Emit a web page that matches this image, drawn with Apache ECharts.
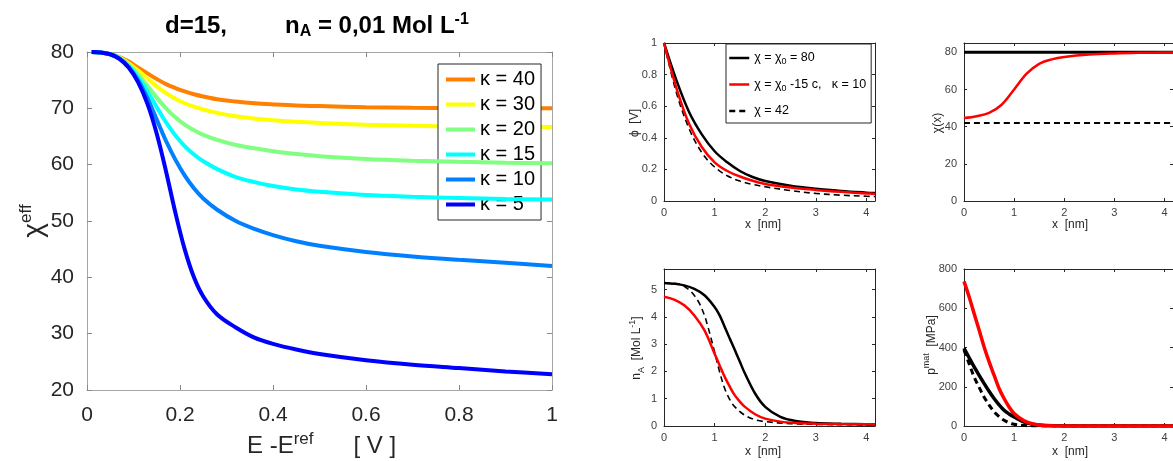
<!DOCTYPE html>
<html><head><meta charset="utf-8">
<script src="https://cdn.jsdelivr.net/npm/echarts@6/dist/echarts.min.js"></script>
<style>html,body{margin:0;padding:0;background:#fff}#c{width:1173px;height:461px}</style>
</head><body><div id="c"></div>
<script>
// ---------- Left panel: chi_eff vs E - E_ref ----------
const leftX = [0.01,0.03,0.05,0.07,0.09,0.11,0.13,0.15,0.17,0.19,0.21,0.23,0.25,0.28,0.32,0.36,0.40,0.45,0.50,0.60,0.70,0.80,0.90,1.00];
const kappa40 = [80,79.9,79.6,79.1,78.3,77.2,76.2,75.2,74.3,73.6,73.0,72.5,72.1,71.6,71.2,70.9,70.7,70.5,70.4,70.2,70.1,70.05,70.0,70.0];
const kappa30 = [80,79.9,79.6,79.0,78.0,76.7,75.3,73.9,72.7,71.7,70.9,70.3,69.8,69.2,68.6,68.2,67.9,67.6,67.4,67.1,66.9,66.8,66.75,66.7];
const kappa20 = [80,79.9,79.6,78.9,77.7,76.0,74.0,71.9,70.0,68.4,67.1,66.1,65.3,64.4,63.5,62.9,62.4,61.9,61.5,61.0,60.7,60.5,60.35,60.25];
const kappa15 = [80,79.9,79.6,78.9,77.5,75.5,73.0,70.2,67.5,65.2,63.3,61.8,60.6,59.2,57.8,56.9,56.2,55.6,55.2,54.6,54.3,54.1,53.9,53.8];
const kappa10 = [80,79.9,79.6,78.8,77.3,75.0,71.8,68.0,64.2,60.9,58.1,55.8,54.0,52.0,50.0,48.6,47.5,46.4,45.6,44.5,43.7,43.1,42.6,42.0];
const kappa5  = [80,79.9,79.6,78.8,77.2,74.6,70.8,65.5,58.8,51.5,45.0,40.0,36.6,33.4,31.1,29.3,28.2,27.2,26.4,25.3,24.5,23.9,23.3,22.8];
const kappaNames = ['κ = 40','κ = 30','κ = 20','κ = 15','κ = 10','κ = 5'];

// ---------- Panel phi(x) ----------
const phiX   = [0,0.25,0.5,0.75,1,1.25,1.5,1.75,2,2.5,3,3.5,4,4.17];
const phi80  = [1,0.76,0.56,0.42,0.315,0.245,0.19,0.152,0.127,0.097,0.078,0.064,0.053,0.05];
const phiRed = [1,0.71,0.485,0.34,0.245,0.19,0.155,0.128,0.108,0.085,0.07,0.058,0.048,0.045];
const phi42  = [1,0.68,0.455,0.305,0.215,0.16,0.126,0.105,0.09,0.066,0.048,0.037,0.03,0.028];

// ---------- Panel chi(x) ----------
const chiX   = [0,0.25,0.5,0.75,1,1.25,1.5,1.75,2,2.5,3,3.5,4,4.17];
const chiRed = [44.6,45.6,47.4,51.8,60.0,68.5,73.8,76.2,77.5,78.8,79.4,79.7,79.85,79.9];
const chiConstX = [0,4.17];
const chi80 = [80,80];
const chi42 = [42,42];

// ---------- Panel n_A(x) ----------
const naX     = [0,0.2,0.4,0.6,0.8,1.0,1.1,1.2,1.3,1.4,1.5,1.6,1.8,2.0,2.3,2.6,3.0,3.5,4.0,4.17];
const naBlack = [5.24,5.21,5.15,5.02,4.79,4.36,4.05,3.63,3.2,2.78,2.35,1.92,1.19,0.7,0.33,0.18,0.11,0.08,0.06,0.055];
const naRed   = [4.73,4.63,4.42,4.05,3.5,2.65,2.22,1.8,1.44,1.12,0.89,0.7,0.43,0.27,0.16,0.11,0.085,0.07,0.06,0.055];
const naDashX = [0,0.3,0.5,0.6,0.7,0.8,0.85,0.9,1.0,1.1,1.2,1.3,1.4,1.6,1.8,2.0,2.5,3.0,4.0,4.17];
const naDash  = [5.24,5.2,4.98,4.78,4.49,4.05,3.75,3.42,2.71,1.98,1.37,0.97,0.7,0.39,0.23,0.16,0.085,0.06,0.04,0.035];

// ---------- Panel p_mat(x) ----------
const pX     = [0,0.1,0.2,0.3,0.4,0.5,0.6,0.7,0.8,0.9,1.0,1.2,1.4,1.6,2.0,3.0,4.17];
const pRed   = [737,660,575,490,404,328,259,191,140,97,63,26,9,3,0.5,0,0];
const pBlack = [396,349,302,259,217,177,140,108,80,61,46,20,8,3,0.5,0,0];
const pDash  = [387,319,251,198,148,108,72,48,29,17,8.5,2,0.5,0.2,0,0,0];

const FONT = 'Liberation Sans, Arial, sans-serif';
const pairs = (xs, ys) => xs.map((x, i) => [x, ys[i]]);

const chart = echarts.init(document.getElementById('c'), null, {renderer: 'canvas'});

const grids = [
  {left: 87, top: 52, width: 465, height: 338},
  {left: 664, top: 43, width: 211, height: 158},
  {left: 964, top: 43, width: 211, height: 158},
  {left: 664, top: 269, width: 211, height: 157},
  {left: 964, top: 269, width: 211, height: 157}
];

const ranges = [
  {x: [0, 1, 0.2], y: [20, 80, 10]},
  {x: [0, 4.17, 1], y: [0, 1, 0.2]},
  {x: [0, 4.17, 1], y: [0, 85, 20]},
  {x: [0, 4.17, 1], y: [0, 5.75, 1]},
  {x: [0, 4.17, 1], y: [0, 800, 200]}
];

function axisStyle(i, dup, dim) {
  const big = i === 0;
  const lineColor = big ? '#a6a6a6' : '#262626';
  const r = ranges[i][dim];
  const hideMax = !big && ((dim === 'x') || (i === 2 || i === 3));
  return {
    type: 'value', gridIndex: i, min: r[0], max: r[1], interval: r[2],
    position: dim === 'x' ? (dup ? 'top' : 'bottom') : (dup ? 'right' : 'left'),
    splitLine: {show: false},
    axisLine: {show: true, onZero: false, lineStyle: {color: lineColor, width: 1}},
    axisTick: {show: true, inside: true, length: big ? 5 : 3, lineStyle: {color: big ? '#888' : '#262626'}},
    axisLabel: {
      show: !dup, showMaxLabel: !hideMax,
      fontFamily: FONT, fontSize: big ? 21 : 11,
      color: big ? '#262626' : '#404040',
      margin: big ? (dim === 'x' ? 15 : 13) : (dim === 'x' ? 6 : 7)
    }
  };
}

const xAxes = [], yAxes = [];
for (let d = 0; d < 2; d++) for (let i = 0; i < 5; i++) {
  xAxes.push(axisStyle(i, d === 1, 'x'));
  yAxes.push(axisStyle(i, d === 1, 'y'));
}

const leftColors = ['#ff8000', '#ffff00', '#80ff80', '#00ffff', '#0080ff', '#0000ff'];
const leftData = [kappa40, kappa30, kappa20, kappa15, kappa10, kappa5];
const series = [];
leftData.forEach((arr, k) => {
  series.push({
    type: 'line', name: kappaNames[k], xAxisIndex: 0, yAxisIndex: 0,
    data: pairs(leftX, arr), showSymbol: false, symbol: 'none',
    smooth: 0.35,
    lineStyle: {color: leftColors[k], width: 4}, itemStyle: {color: leftColors[k]}, z: 2 + k
  });
});

function small(name, gi, xs, ys, color, width, dashed, z) {
  series.push({
    type: 'line', name, xAxisIndex: gi, yAxisIndex: gi,
    data: pairs(xs, ys), symbol: 'none', showSymbol: false,
    smooth: 0.35,
    lineStyle: {color, width, type: dashed ? [6, 4] : 'solid'},
    itemStyle: {color}, z: z || 2
  });
}
// phi panel
small('chi42', 1, phiX, phi42, '#000', 1.6, true, 2);
small('chi80', 1, phiX, phi80, '#000', 2.5, false, 3);
small('chiRed', 1, phiX, phiRed, '#ff0000', 2.5, false, 4);
// chi panel
small('chi80', 2, chiConstX, chi80, '#000', 3, false, 3);
small('chi42', 2, chiConstX, chi42, '#000', 2, true, 2);
small('chiRed', 2, chiX, chiRed, '#ff0000', 2.5, false, 4);
// n_A panel
small('chi42', 3, naDashX, naDash, '#000', 1.6, true, 2);
small('chi80', 3, naX, naBlack, '#000', 2.5, false, 3);
small('chiRed', 3, naX, naRed, '#ff0000', 2.5, false, 4);
// p panel
small('chi42', 4, pX, pDash, '#000', 3, true, 2);
small('chi80', 4, pX, pBlack, '#000', 3.5, false, 3);
small('chiRed', 4, pX, pRed, '#ff0000', 3.5, false, 4);

const legendLabels = {
  chi80: '{t|χ = χ}{s|0}{t| = 80}',
  chiRed: '{t|χ = χ}{s|0}{t| -15 c,   κ = 10}',
  chi42: '{t|χ = 42}'
};

const option = {
  backgroundColor: '#fff',
  animation: false,
  grid: grids,
  xAxis: xAxes,
  yAxis: yAxes,
  series,
  legend: [
    {
      orient: 'vertical', left: 438, top: 64, padding: [3, 6, 3, 6],
      itemWidth: 29, itemHeight: 14, itemGap: 0, selectedMode: false,
      backgroundColor: '#fff', borderColor: '#262626', borderWidth: 1,
      itemStyle: {opacity: 0}, lineStyle: {width: 4},
      textStyle: {fontSize: 20, lineHeight: 25, color: '#000', fontFamily: FONT},
      data: kappaNames
    },
    {
      orient: 'vertical', left: 726, top: 44, padding: [4, 5, 2, 2],
      itemWidth: 20, itemHeight: 10, itemGap: 6.5, selectedMode: false,
      backgroundColor: '#fff', borderColor: '#262626', borderWidth: 1,
      itemStyle: {opacity: 0}, lineStyle: {width: 2.5},
      data: ['chi80', 'chiRed', 'chi42'],
      formatter: n => legendLabels[n],
      textStyle: {
        fontSize: 12.5, lineHeight: 20, color: '#000', fontFamily: FONT,
        rich: {
          t: {fontSize: 12.5, fontFamily: FONT, color: '#000'},
          s: {fontSize: 9, fontFamily: FONT, color: '#000', padding: [8, 0, 0, 0]}
        }
      }
    }
  ],
  graphic: [
    {type: 'text', x: 165, y: 26, style: {text: 'd=15,', font: 'bold 24px ' + FONT, fill: '#000', verticalAlign: 'middle', align: 'left'}},
    {type: 'text', x: 285, y: 26, style: {
      text: '{b|n}{s|A}{b| = 0,01 Mol L}{p|-1}', verticalAlign: 'middle', align: 'left',
      rich: {
        b: {font: 'bold 24px ' + FONT, fill: '#000'},
        s: {font: 'bold 16px ' + FONT, fill: '#000', padding: [11, 0, 0, 0]},
        p: {font: 'bold 16px ' + FONT, fill: '#000', padding: [0, 0, 13, 0]}
      }}},
    {type: 'text', x: 247, y: 446, style: {
      text: '{t|E -E}{p|ref}{t|      [ V ]}', verticalAlign: 'middle', align: 'left',
      rich: {
        t: {font: '24px ' + FONT, fill: '#262626'},
        p: {font: '17px ' + FONT, fill: '#262626', padding: [0, 0, 14, 0]}
      }}},
    {type: 'text', x: 34, y: 221, rotation: Math.PI / 2, style: {
      text: '{t|χ}{p|eff}', verticalAlign: 'middle', align: 'center',
      rich: {
        t: {font: '28px ' + FONT, fill: '#262626'},
        p: {font: '17px ' + FONT, fill: '#262626', padding: [0, 0, 16, 0]}
      }}},
    // small axis names
    {type: 'text', x: 763, y: 225, style: {text: 'x  [nm]', font: '12px ' + FONT, fill: '#262626', align: 'center', verticalAlign: 'middle'}},
    {type: 'text', x: 1070, y: 225, style: {text: 'x  [nm]', font: '12px ' + FONT, fill: '#262626', align: 'center', verticalAlign: 'middle'}},
    {type: 'text', x: 763, y: 452, style: {text: 'x  [nm]', font: '12px ' + FONT, fill: '#262626', align: 'center', verticalAlign: 'middle'}},
    {type: 'text', x: 1070, y: 452, style: {text: 'x  [nm]', font: '12px ' + FONT, fill: '#262626', align: 'center', verticalAlign: 'middle'}},
    {type: 'text', x: 635, y: 123, rotation: Math.PI / 2, style: {text: 'ϕ  [V]', font: '12px ' + FONT, fill: '#262626', align: 'center', verticalAlign: 'middle'}},
    {type: 'text', x: 938, y: 123, rotation: Math.PI / 2, style: {text: 'χ(x)', font: '12px ' + FONT, fill: '#262626', align: 'center', verticalAlign: 'middle'}},
    {type: 'text', x: 637, y: 348, rotation: Math.PI / 2, style: {
      text: '{t|n}{s|A}{t|  [Mol L}{p|-1}{t|]}', align: 'center', verticalAlign: 'middle',
      rich: {
        t: {font: '12px ' + FONT, fill: '#262626'},
        s: {font: '9px ' + FONT, fill: '#262626', padding: [9, 0, 0, 0]},
        p: {font: '9px ' + FONT, fill: '#262626', padding: [0, 0, 9, 0]}
      }}},
    {type: 'text', x: 932, y: 345, rotation: Math.PI / 2, style: {
      text: '{t|p}{p|mat}{t|  [MPa]}', align: 'center', verticalAlign: 'middle',
      rich: {
        t: {font: '12px ' + FONT, fill: '#262626'},
        p: {font: '9px ' + FONT, fill: '#262626', padding: [0, 0, 10, 0]}
      }}}
  ]
};
chart.setOption(option);
</script></body></html>
